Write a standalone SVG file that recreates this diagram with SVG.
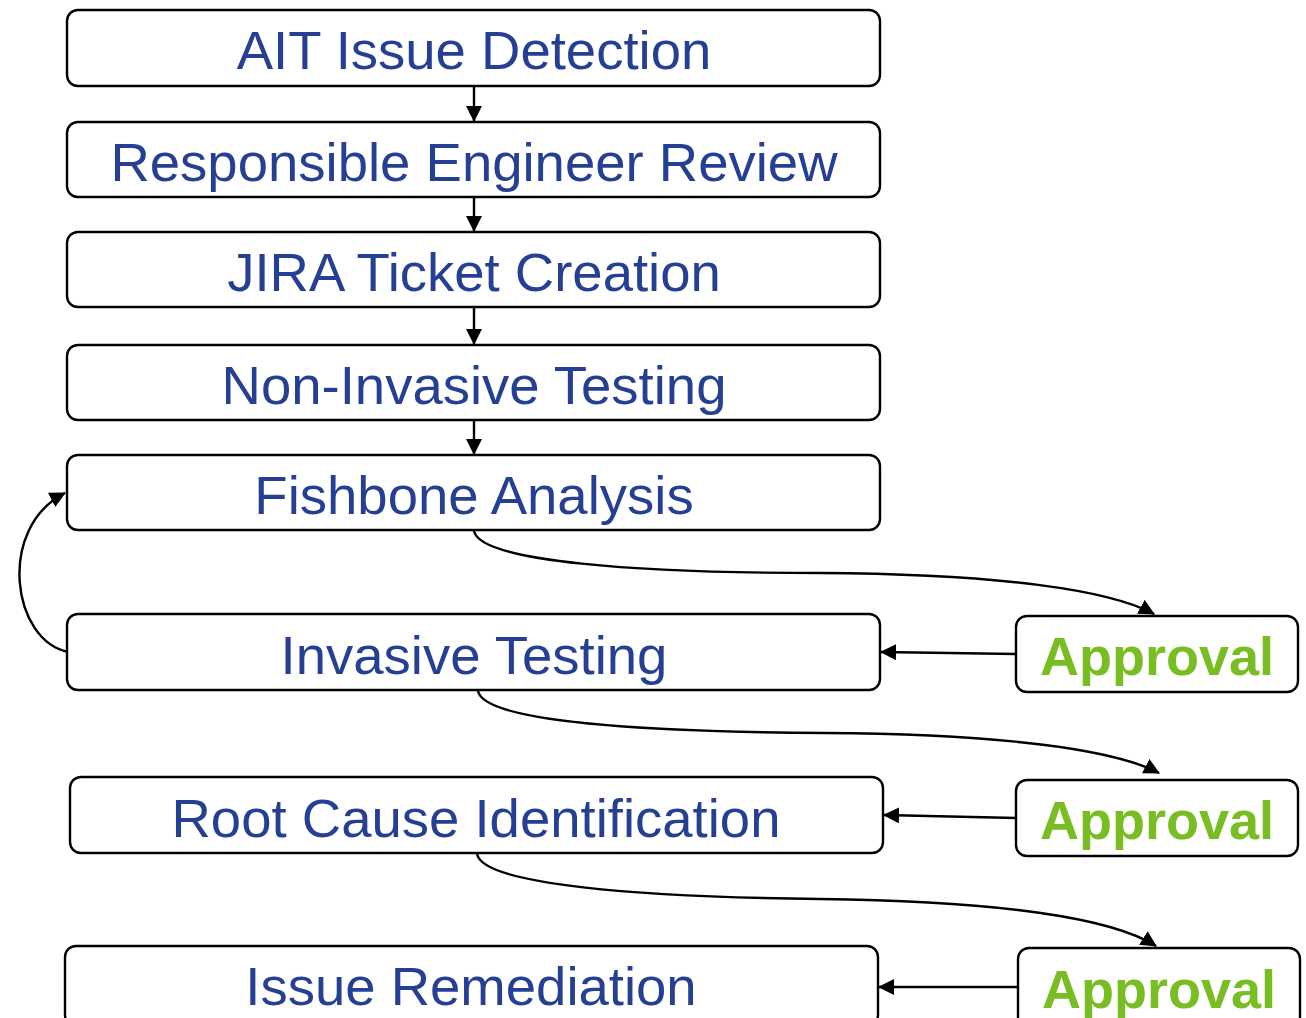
<svg xmlns="http://www.w3.org/2000/svg" width="1306" height="1018" viewBox="0 0 1306 1018">
  <style>
    .box { fill: #ffffff; stroke: #000000; stroke-width: 2.4; }
    .step { font-family: "Liberation Sans", Arial, sans-serif; font-size: 54.5px; fill: #243f94; text-anchor: middle; }
    .ok { font-family: "Liberation Sans", Arial, sans-serif; font-size: 54px; font-weight: bold; fill: #78bd22; text-anchor: middle; }
    .edge { fill: none; stroke: #000000; stroke-width: 2.4; }
  </style>
  <defs>
    <marker id="arrow" markerUnits="userSpaceOnUse" markerWidth="17" markerHeight="17" refX="15" refY="8" orient="auto">
      <path d="M0,0 L16,8 L0,16 z" fill="#000000"/>
    </marker>
  </defs>
  <rect width="1306" height="1018" fill="#ffffff"/>

  <g id="connectors">
    <!-- main chain -->
    <line class="edge" x1="474" y1="86" x2="474" y2="121" marker-end="url(#arrow)"/>
    <line class="edge" x1="474" y1="197" x2="474" y2="231" marker-end="url(#arrow)"/>
    <line class="edge" x1="474" y1="307" x2="474" y2="344" marker-end="url(#arrow)"/>
    <line class="edge" x1="474" y1="420" x2="474" y2="454" marker-end="url(#arrow)"/>
    <!-- requests for approval -->
    <path class="edge" d="M474 531 C 480 562, 640 573, 820 573 C 1000 574, 1110 590, 1154 614" marker-end="url(#arrow)"/>
    <path class="edge" d="M478 691 C 484 722, 645 732, 825 733 C 1005 734, 1115 750, 1159 773" marker-end="url(#arrow)"/>
    <path class="edge" d="M477 854 C 483 885, 640 897, 820 899 C 1000 901, 1112 918, 1156 946" marker-end="url(#arrow)"/>
    <!-- approvals back to steps -->
    <line class="edge" x1="1016" y1="654" x2="881" y2="652" marker-end="url(#arrow)"/>
    <line class="edge" x1="1016" y1="818" x2="884" y2="815" marker-end="url(#arrow)"/>
    <line class="edge" x1="1018" y1="987" x2="879" y2="987" marker-end="url(#arrow)"/>
    <!-- loop back to fishbone -->
    <path class="edge" d="M69 652 C 12 642, -4 528, 65 493" marker-end="url(#arrow)"/>
  </g>

  <g id="ait-issue-detection">
    <rect class="box" x="67" y="10" width="813" height="76" rx="11"/>
    <text class="step" x="474" y="69">AIT Issue Detection</text>
  </g>
  <g id="responsible-engineer-review">
    <rect class="box" x="67" y="122" width="813" height="75" rx="11"/>
    <text class="step" x="474" y="181">Responsible Engineer Review</text>
  </g>
  <g id="jira-ticket-creation">
    <rect class="box" x="67" y="232" width="813" height="75" rx="11"/>
    <text class="step" x="474" y="291">JIRA Ticket Creation</text>
  </g>
  <g id="non-invasive-testing">
    <rect class="box" x="67" y="345" width="813" height="75" rx="11"/>
    <text class="step" x="474" y="404">Non-Invasive Testing</text>
  </g>
  <g id="fishbone-analysis">
    <rect class="box" x="67" y="455" width="813" height="75" rx="11"/>
    <text class="step" x="474" y="514">Fishbone Analysis</text>
  </g>
  <g id="invasive-testing">
    <rect class="box" x="67" y="614" width="813" height="76" rx="11"/>
    <text class="step" x="474" y="674">Invasive Testing</text>
  </g>
  <g id="root-cause-identification">
    <rect class="box" x="70" y="777" width="813" height="76" rx="11"/>
    <text class="step" x="476" y="837">Root Cause Identification</text>
  </g>
  <g id="issue-remediation">
    <rect class="box" x="65" y="946" width="813" height="80" rx="11"/>
    <text class="step" x="471" y="1005">Issue Remediation</text>
  </g>

  <g id="approval-invasive">
    <rect class="box" x="1016" y="616" width="282" height="76" rx="11"/>
    <text class="ok" x="1157" y="675">Approval</text>
  </g>
  <g id="approval-root-cause">
    <rect class="box" x="1016" y="780" width="282" height="76" rx="11"/>
    <text class="ok" x="1157" y="839">Approval</text>
  </g>
  <g id="approval-remediation">
    <rect class="box" x="1018" y="948" width="282" height="80" rx="11"/>
    <text class="ok" x="1159" y="1008">Approval</text>
  </g>
</svg>
